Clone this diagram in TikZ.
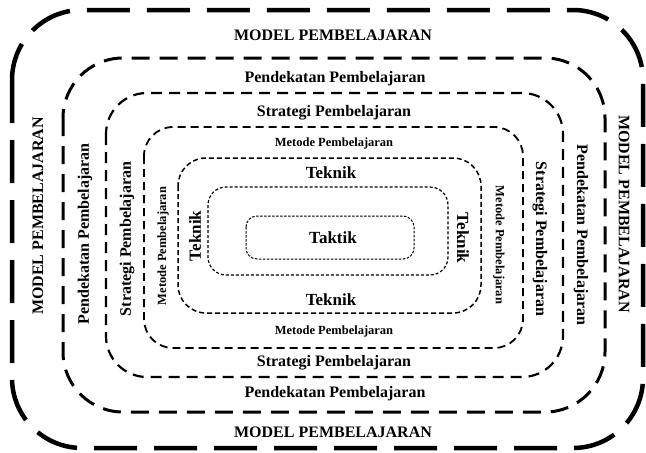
\documentclass[tikz,border=0pt]{standalone}
\usepackage{fontspec}
\setmainfont{Liberation Serif}
\begin{document}
\begin{tikzpicture}[x=1pt,y=-1pt,
  boxA/.style={line width=4.5pt, dash pattern=on 43pt off 17pt, rounded corners=70pt},
  boxB/.style={line width=3pt, dash pattern=on 18pt off 10pt, rounded corners=60pt},
  boxC/.style={line width=2.2pt, dash pattern=on 11pt off 7pt, rounded corners=41pt},
  boxD/.style={line width=1.8pt, dash pattern=on 8pt off 5pt, rounded corners=29pt},
  boxE/.style={line width=1.5pt, dash pattern=on 5pt off 3pt, rounded corners=28pt},
  boxF/.style={line width=1.2pt, dash pattern=on 3pt off 2pt, rounded corners=18pt},
  boxG/.style={line width=1pt, dash pattern=on 2.5pt off 1.5pt, rounded corners=11pt},
  tbig/.style={font=\bfseries\fontsize{16}{16}\selectfont, inner sep=0pt},
  tmet/.style={font=\bfseries\fontsize{12.5}{13}\selectfont, inner sep=0pt},
  ttek/.style={font=\bfseries\fontsize{17}{17}\selectfont, inner sep=0pt},
  ttak/.style={font=\bfseries\fontsize{17}{17}\selectfont, inner sep=0pt}]
\useasboundingbox (0,0) rectangle (646,453);
% boxes
\draw[boxA] (12,10) rectangle (643,448);
\draw[boxB] (63,58) rectangle (605,412);
\draw[boxC] (106,93) rectangle (563,377);
\draw[boxD] (144,127) rectangle (523,348);
\draw[boxE] (178,158) rectangle (481,313);
\draw[boxF] (208,187) rectangle (448,275);
\draw[boxG] (246,216) rectangle (414,259);
% top labels
\node[tbig] (mT) at (333,35) {MODEL PEMBELAJARAN};
\node[tbig] (pT) at (335,79) {Pendekatan Pembelajaran};
\node[tbig] (sT) at (334,113) {Strategi Pembelajaran};
\node[tmet] (meT) at (334,143) {Metode Pembelajaran};
\node[ttek] (tT) at (331,173) {Teknik};
% bottom labels
\node[ttek] (tB) at (331,300) {Teknik};
\node[tmet] (meB) at (334,331) {Metode Pembelajaran};
\node[tbig] (sB) at (334,363) {Strategi Pembelajaran};
\node[tbig] (pB) at (335,394) {Pendekatan Pembelajaran};
\node[tbig] (mB) at (333,432) {MODEL PEMBELAJARAN};
% left labels
\node[tbig, rotate=90] (mL) at (38,216) {MODEL PEMBELAJARAN};
\node[tbig, rotate=90] (pL) at (85,234) {Pendekatan Pembelajaran};
\node[tbig, rotate=90] (sL) at (127,239) {Strategi Pembelajaran};
\node[tmet, rotate=90] (meL) at (163,246) {Metode Pembelajaran};
\node[ttek, rotate=90] (tL) at (195,236) {Teknik};
% right labels
\node[tbig, rotate=-90] (mR) at (624,214) {MODEL PEMBELAJARAN};
\node[tbig, rotate=-90] (pR) at (581,235) {Pendekatan Pembelajaran};
\node[tbig, rotate=-90] (sR) at (540,239) {Strategi Pembelajaran};
\node[tmet, rotate=-90] (meR) at (499,245) {Metode Pembelajaran};
\node[ttek, rotate=-90] (tR) at (463,238) {Teknik};
% centre
\node[ttak] (tak) at (333,238) {Taktik};
\end{tikzpicture}
\end{document}
